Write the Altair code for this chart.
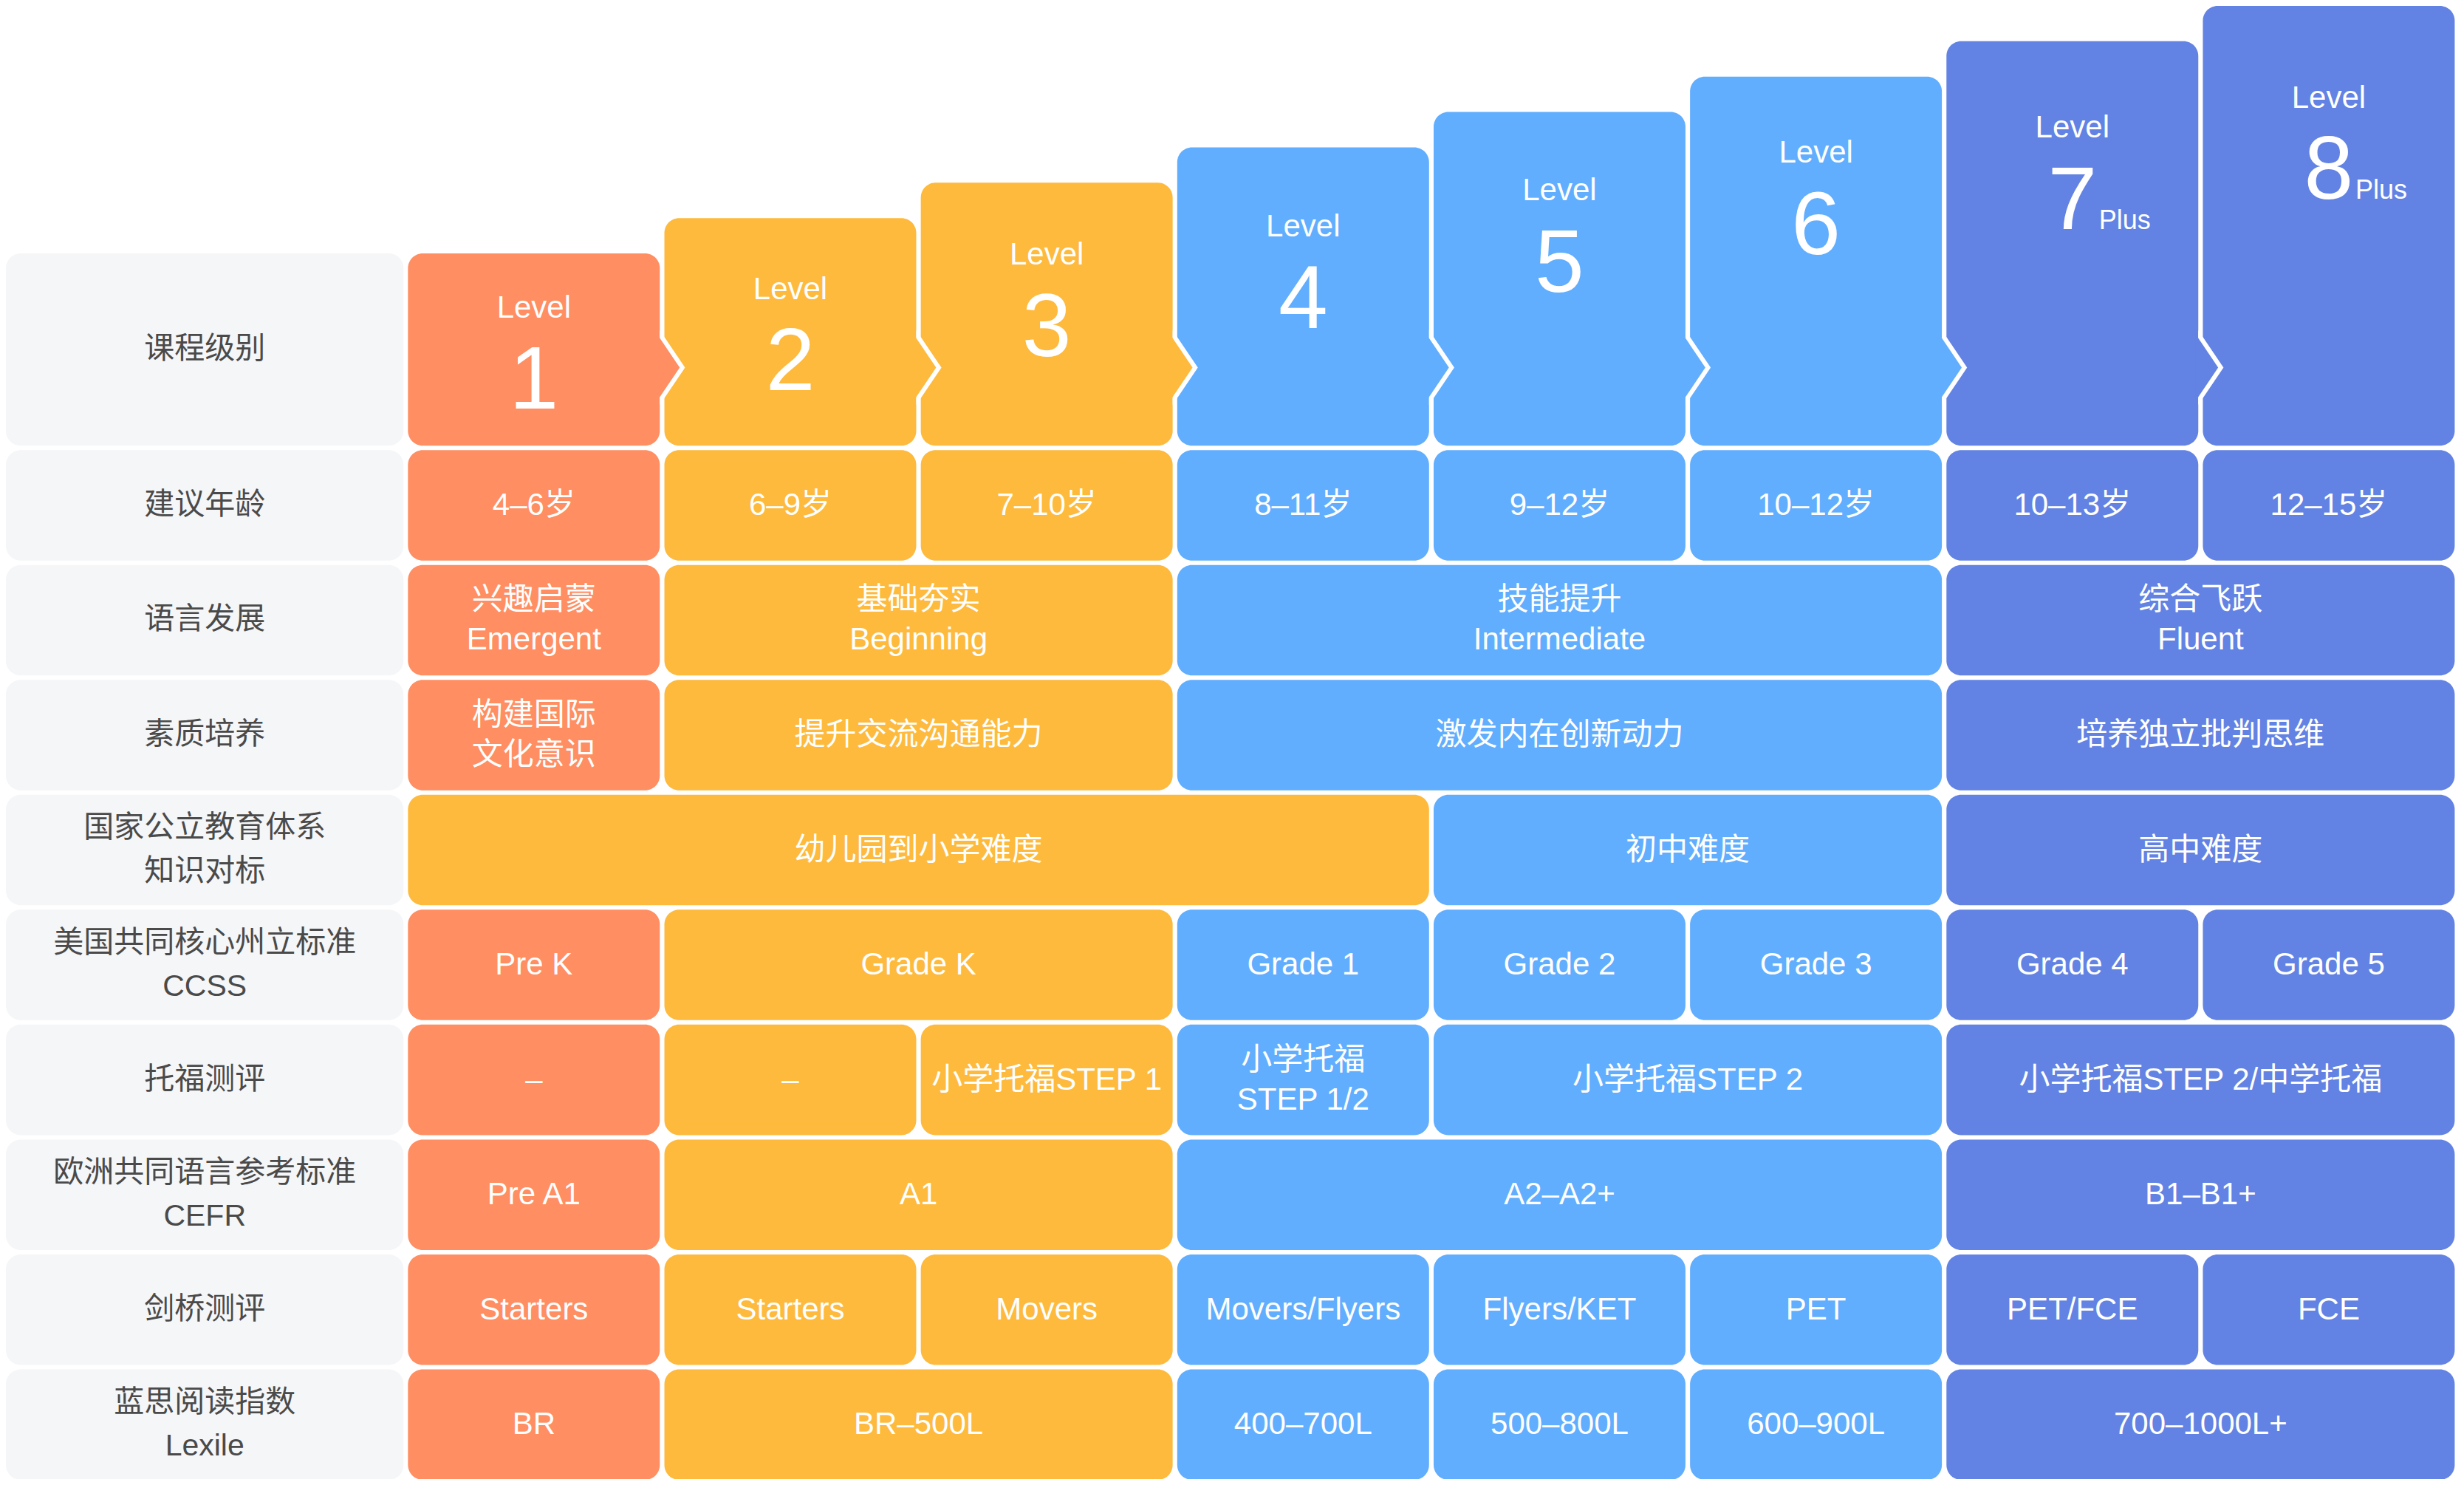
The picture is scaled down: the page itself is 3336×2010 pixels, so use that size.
import altair as alt
import pandas as pd

# ---------------- data ----------------
ROW_LABELS = [
    "课程级别", "建议年龄", "语言发展", "素质培养",
    "国家公立教育体系\n知识对标", "美国共同核心州立标准\nCCSS", "托福测评",
    "欧洲共同语言参考标准\nCEFR", "剑桥测评", "蓝思阅读指数\nLexile",
]

LEVEL_WORD = "Level"
LEVEL_NUMBERS = ["1", "2", "3", "4", "5", "6", "7", "8"]
LEVEL_SUFFIX = ["", "", "", "", "", "", "Plus", "Plus"]
LEVEL_TONES = ["orange", "yellow", "yellow", "sky", "sky", "sky", "indigo", "indigo"]

AGE_TEXT = ["4–6岁", "6–9岁", "7–10岁", "8–11岁", "9–12岁", "10–12岁", "10–13岁", "12–15岁"]
AGE_SPAN = [(1, 1), (2, 2), (3, 3), (4, 4), (5, 5), (6, 6), (7, 7), (8, 8)]

LANG_TEXT = ["兴趣启蒙\nEmergent", "基础夯实\nBeginning", "技能提升\nIntermediate", "综合飞跃\nFluent"]
LANG_SPAN = [(1, 1), (2, 3), (4, 6), (7, 8)]

QUALITY_TEXT = ["构建国际\n文化意识", "提升交流沟通能力", "激发内在创新动力", "培养独立批判思维"]
QUALITY_SPAN = [(1, 1), (2, 3), (4, 6), (7, 8)]

PUBLIC_TEXT = ["幼儿园到小学难度", "初中难度", "高中难度"]
PUBLIC_SPAN = [(1, 4), (5, 6), (7, 8)]
PUBLIC_TONES = ["yellow", "sky", "indigo"]

CCSS_TEXT = ["Pre K", "Grade K", "Grade 1", "Grade 2", "Grade 3", "Grade 4", "Grade 5"]
CCSS_SPAN = [(1, 1), (2, 3), (4, 4), (5, 5), (6, 6), (7, 7), (8, 8)]

TOEFL_TEXT = ["–", "–", "小学托福STEP 1", "小学托福\nSTEP 1/2", "小学托福STEP 2", "小学托福STEP 2/中学托福"]
TOEFL_SPAN = [(1, 1), (2, 2), (3, 3), (4, 4), (5, 6), (7, 8)]

CEFR_TEXT = ["Pre A1", "A1", "A2–A2+", "B1–B1+"]
CEFR_SPAN = [(1, 1), (2, 3), (4, 6), (7, 8)]

CAMBRIDGE_TEXT = ["Starters", "Starters", "Movers", "Movers/Flyers", "Flyers/KET", "PET", "PET/FCE", "FCE"]
CAMBRIDGE_SPAN = [(1, 1), (2, 2), (3, 3), (4, 4), (5, 5), (6, 6), (7, 7), (8, 8)]

LEXILE_TEXT = ["BR", "BR–500L", "400–700L", "500–800L", "600–900L", "700–1000L+"]
LEXILE_SPAN = [(1, 1), (2, 3), (4, 4), (5, 5), (6, 6), (7, 8)]

ROWS = [
    (AGE_TEXT, AGE_SPAN, None),
    (LANG_TEXT, LANG_SPAN, None),
    (QUALITY_TEXT, QUALITY_SPAN, None),
    (PUBLIC_TEXT, PUBLIC_SPAN, PUBLIC_TONES),
    (CCSS_TEXT, CCSS_SPAN, None),
    (TOEFL_TEXT, TOEFL_SPAN, None),
    (CEFR_TEXT, CEFR_SPAN, None),
    (CAMBRIDGE_TEXT, CAMBRIDGE_SPAN, None),
    (LEXILE_TEXT, LEXILE_SPAN, None),
]

TONE_NAMES = ["orange", "yellow", "sky", "indigo"]
TONE_COLORS = ["#FF8E62", "#FEBA3D", "#61AEFE", "#6283E3"]
LABEL_BG = "#F5F6F8"
LABEL_INK = "#4A4A4A"
FONT = "Liberation Sans, Noto Sans CJK SC, sans-serif"

# ---------------- layout (grid units -> pixels via scales) ----------------
W, H = 3320, 1994
COL_X0, COL_PITCH, COL_W = 549.0, 348.2, 342.0
ROW_Y0, ROW_PITCH, ROW_H = 609.0, 156.0, 150.0
LABEL_LEFT, RIGHT_EDGE = 3.0, 3333.0
TOP_EDGE, BOTTOM_EDGE = 6.0, 2006.0
GAP = 6.0
HEAD_TOP0, HEAD_STEP, HEAD_BOTTOM = 342.0, 48.0, 603.0
LEVEL_BASELINE = [429, 404, 357, 319, 270, 219, 185, 144]
DIGIT_DROP = 124
ARROW_Y, ARROW_HALF, ARROW_DEPTH = 497.0, 40.0, 27.0
LABEL_LH, CELL_LH = 59, 54


def ux(px):
    return (px - COL_X0) / COL_PITCH


def uy(py):
    return (py - ROW_Y0) / ROW_PITCH


CWU = COL_W / COL_PITCH
RHU = ROW_H / ROW_PITCH
Y_DOMAIN = [uy(TOP_EDGE), uy(BOTTOM_EDGE)]
PX_PER_UY = H / (Y_DOMAIN[1] - Y_DOMAIN[0])

X_SCALE = alt.Scale(domain=[ux(LABEL_LEFT), ux(RIGHT_EDGE)], range=[0, W], nice=False, zero=False)
Y_SCALE = alt.Scale(domain=Y_DOMAIN, range=[0, H], nice=False, zero=False)
TONE_SCALE = alt.Scale(domain=TONE_NAMES, range=TONE_COLORS)


def first_line_y(center, text, lh):
    n = text.count("\n") + 1
    return center - (n - 1) * lh / 2 / PX_PER_UY


# label column
label_rows = []
for r, t in enumerate(ROW_LABELS):
    if r == 0:
        y1, y2 = uy(HEAD_TOP0), uy(HEAD_BOTTOM)
    else:
        y1, y2 = r - 1, r - 1 + RHU
    x1, x2 = ux(LABEL_LEFT), ux(COL_X0 - GAP)
    label_rows.append(dict(x=x1, x2=x2, y=y1, y2=y2, xc=(x1 + x2) / 2,
                           yc=first_line_y((y1 + y2) / 2, t, LABEL_LH), text=t))
labels_df = pd.DataFrame(label_rows)

# body cells
cell_rows = []
for r, (texts, spans, tones) in enumerate(ROWS, start=1):
    for k, (t, (a, b)) in enumerate(zip(texts, spans)):
        tone = tones[k] if tones else LEVEL_TONES[a - 1]
        x1, x2 = a - 1, b - 1 + CWU
        y1, y2 = r - 1, r - 1 + RHU
        cell_rows.append(dict(x=x1, x2=x2, y=y1, y2=y2, xc=(x1 + x2) / 2,
                              yc=first_line_y((y1 + y2) / 2, t, CELL_LH), text=t, tone=tone))
cells_df = pd.DataFrame(cell_rows)

# header columns
head_rows = []
for i, (num, suf, tone) in enumerate(zip(LEVEL_NUMBERS, LEVEL_SUFFIX, LEVEL_TONES)):
    x1, x2 = i, i + CWU
    head_rows.append(dict(
        x=x1, x2=x2, y=uy(HEAD_TOP0 - HEAD_STEP * i), y2=uy(HEAD_BOTTOM),
        xc=(x1 + x2) / 2, ly=uy(LEVEL_BASELINE[i]), dy=uy(LEVEL_BASELINE[i] + DIGIT_DROP),
        word=LEVEL_WORD, num=num, suf=suf, tone=tone,
    ))
head_df = pd.DataFrame(head_rows)

# arrows between header columns (colored tip + white outline notch)
slope = ARROW_HALF / ARROW_DEPTH
shift = GAP * (1 + slope ** 2) ** 0.5
arrow_rows, notch_rows = [], []
for i in range(len(LEVEL_NUMBERS) - 1):
    right = i + CWU
    ext = 4.0
    top_c = ARROW_Y - ARROW_HALF - ext * slope
    bot_c = ARROW_Y + ARROW_HALF + ext * slope
    arrow_rows += [
        dict(id=i, x=right - ext / COL_PITCH, y=uy(top_c), y2=uy(bot_c), tone=LEVEL_TONES[i]),
        dict(id=i, x=right + ARROW_DEPTH / COL_PITCH, y=uy(ARROW_Y), y2=uy(ARROW_Y), tone=LEVEL_TONES[i]),
    ]
    wh = ARROW_HALF + shift
    notch_rows += [
        dict(id=i, x=right, y=uy(ARROW_Y - wh), y2=uy(ARROW_Y + wh)),
        dict(id=i, x=right + wh / slope / COL_PITCH, y=uy(ARROW_Y), y2=uy(ARROW_Y)),
    ]
arrows_df = pd.DataFrame(arrow_rows)
notch_df = pd.DataFrame(notch_rows)


def X(f):
    return alt.X(f"{f}:Q", scale=X_SCALE, axis=None)


def Y(f):
    return alt.Y(f"{f}:Q", scale=Y_SCALE, axis=None, stack=None)


label_rects = alt.Chart(labels_df).mark_rect(cornerRadius=20, color=LABEL_BG).encode(
    x=X("x"), x2="x2", y=Y("y"), y2="y2")

label_text = alt.Chart(labels_df).transform_calculate(
    lines="split(datum.text, '\\n')"
).mark_text(align="center", baseline="middle", fontSize=41, lineHeight=LABEL_LH,
            color=LABEL_INK, font=FONT).encode(x=X("xc"), y=Y("yc"), text="lines:N")

head_rects = alt.Chart(head_df).mark_rect(cornerRadius=20).encode(
    x=X("x"), x2="x2", y=Y("y"), y2="y2",
    color=alt.Color("tone:N", scale=TONE_SCALE, legend=None))

notches = alt.Chart(notch_df).mark_area(orient="vertical", color="white", interpolate="linear").encode(
    x=X("x"), y=Y("y"), y2="y2", detail="id:N")

arrows = alt.Chart(arrows_df).mark_area(orient="vertical", interpolate="linear").encode(
    x=X("x"), y=Y("y"), y2="y2", detail="id:N",
    color=alt.Color("tone:N", scale=TONE_SCALE, legend=None))

level_word = alt.Chart(head_df).mark_text(align="center", baseline="alphabetic", fontSize=42,
                                          color="white", font=FONT).encode(
    x=X("xc"), y=Y("ly"), text="word:N")

level_num = alt.Chart(head_df).mark_text(align="center", baseline="alphabetic", fontSize=120,
                                         color="white", font=FONT).encode(
    x=X("xc"), y=Y("dy"), text="num:N")

level_suf = alt.Chart(head_df).mark_text(align="left", baseline="alphabetic", fontSize=36, dx=36,
                                         color="white", font=FONT).encode(
    x=X("xc"), y=Y("dy"), text="suf:N")

cell_rects = alt.Chart(cells_df).mark_rect(cornerRadius=20).encode(
    x=X("x"), x2="x2", y=Y("y"), y2="y2",
    color=alt.Color("tone:N", scale=TONE_SCALE, legend=None))

cell_text = alt.Chart(cells_df).transform_calculate(
    lines="split(datum.text, '\\n')"
).mark_text(align="center", baseline="middle", fontSize=42, lineHeight=CELL_LH,
            color="white", font=FONT).encode(x=X("xc"), y=Y("yc"), text="lines:N")

chart = alt.layer(
    label_rects, head_rects, notches, arrows, cell_rects,
    label_text, cell_text, level_word, level_num, level_suf,
).properties(
    width=W, height=H, padding=0,
    autosize=alt.AutoSizeParams(type="none"),
    background="white",
).configure_view(strokeWidth=0)

chart.save("out.html", embed_options={"renderer": "svg", "actions": False})
